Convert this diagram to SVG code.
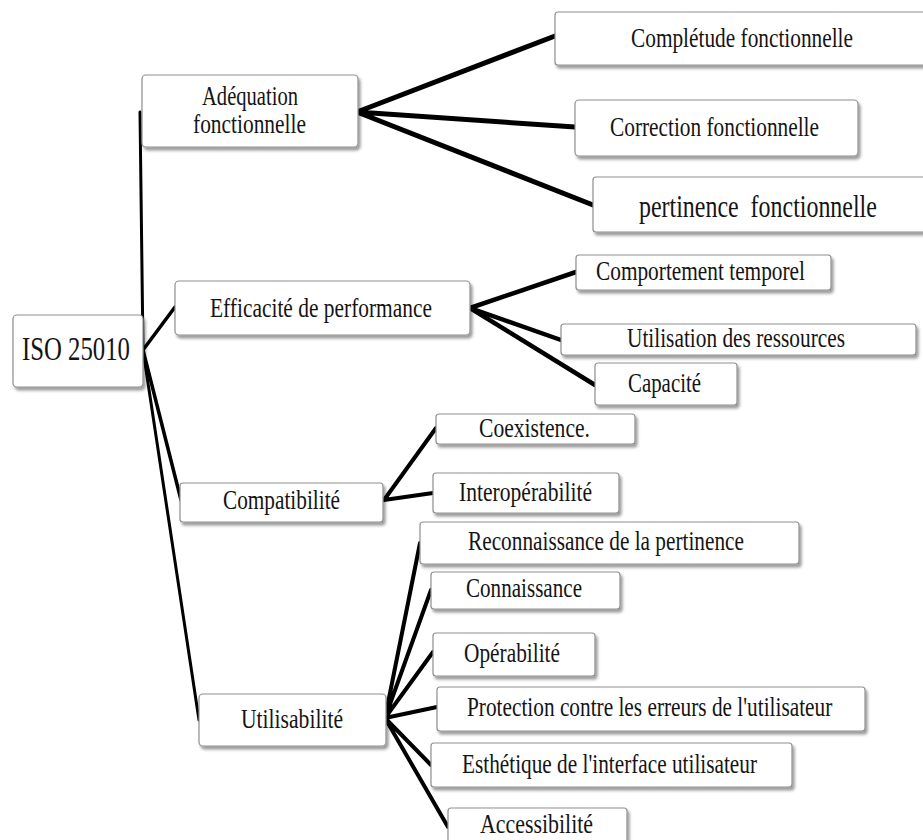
<svg xmlns="http://www.w3.org/2000/svg" width="923" height="840" viewBox="0 0 923 840">
<defs>
<filter id="sh" x="-10%" y="-20%" width="130%" height="160%">
<feDropShadow dx="2" dy="3" stdDeviation="1.8" flood-color="#000" flood-opacity="0.4"/>
</filter>
</defs>
<style>
.box{fill:#fff;stroke:#8f8f8f;stroke-width:1.2;filter:url(#sh)}
.t{font-family:'Liberation Serif','DejaVu Serif','Times New Roman',serif;fill:#141414;font-size:28px;white-space:pre}
.c{fill:none;stroke:#000;stroke-linecap:round}
</style>
<rect width="923" height="840" fill="#fff"/>
<g id="connectors">
<path class="c" stroke-width="3" d="M140 112 L143 350"/>
<path class="c" stroke-width="3.5" d="M143 350 L175 307"/>
<path class="c" stroke-width="3.5" d="M143 350 L181 500"/>
<path class="c" stroke-width="3" d="M143 350 L199 720"/>
<path class="c" stroke-width="5" d="M357 112 L555 36 M357 112 L575 127 M357 112 L593 205"/>
<path class="c" stroke-width="4.5" d="M470 308 L576 272 M470 308 L561 340 M470 308 L595 385"/>
<path class="c" stroke-width="4" d="M384 500 L436 428 M384 500 L433 493"/>
<path class="c" stroke-width="4" d="M385 718 L420 543 M385 718 L431 590 M385 718 L433 652 M385 718 L437 707 M385 718 L431 765 M385 718 L448 827"/>
</g>
<g id="iso">
<rect class="box" x="13" y="315" width="130" height="72" rx="4"/>
<text class="t" x="22" y="360" style="font-size:33px" textLength="108" lengthAdjust="spacingAndGlyphs">ISO 25010</text>
</g>
<g id="adequation">
<rect class="box" x="142" y="75" width="216" height="72" rx="4"/>
<text class="t" x="202" y="105" textLength="96" lengthAdjust="spacingAndGlyphs">Adéquation</text>
<text class="t" x="193" y="133" textLength="113" lengthAdjust="spacingAndGlyphs">fonctionnelle</text>
</g>
<g id="efficacite">
<rect class="box" x="175" y="281" width="295" height="54" rx="4"/>
<text class="t" x="210" y="317" textLength="222" lengthAdjust="spacingAndGlyphs">Efficacité de performance</text>
</g>
<g id="compatibilite">
<rect class="box" x="180" y="483" width="203" height="39" rx="3"/>
<text class="t" x="223" y="509" textLength="117" lengthAdjust="spacingAndGlyphs">Compatibilité</text>
</g>
<g id="utilisabilite">
<rect class="box" x="199" y="694" width="187" height="52" rx="4"/>
<text class="t" x="241" y="728" textLength="102" lengthAdjust="spacingAndGlyphs">Utilisabilité</text>
</g>
<g id="completude">
<rect class="box" x="555" y="12" width="380" height="53" rx="3"/>
<text class="t" x="631" y="47" textLength="222" lengthAdjust="spacingAndGlyphs">Complétude fonctionnelle</text>
</g>
<g id="correction">
<rect class="box" x="575" y="100" width="283" height="56" rx="4"/>
<text class="t" x="610" y="136" textLength="209" lengthAdjust="spacingAndGlyphs">Correction fonctionnelle</text>
</g>
<g id="pertinence">
<rect class="box" x="593" y="177" width="340" height="55" rx="3"/>
<text class="t" transform="translate(639,217) scale(0.748,1)" style="font-size:32px">pertinence  fonctionnelle</text>
</g>
<g id="comportement">
<rect class="box" x="576" y="255" width="255" height="35" rx="3"/>
<text class="t" x="596" y="280" textLength="209" lengthAdjust="spacingAndGlyphs">Comportement temporel</text>
</g>
<g id="utilisation">
<rect class="box" x="561" y="324" width="355" height="31" rx="3"/>
<text class="t" x="627" y="347" textLength="218" lengthAdjust="spacingAndGlyphs">Utilisation des ressources</text>
</g>
<g id="capacite">
<rect class="box" x="595" y="363" width="142" height="42" rx="3"/>
<text class="t" x="628" y="392" textLength="73" lengthAdjust="spacingAndGlyphs">Capacité</text>
</g>
<g id="coexistence">
<rect class="box" x="436" y="414" width="199" height="30" rx="3"/>
<text class="t" x="479" y="437" textLength="111" lengthAdjust="spacingAndGlyphs">Coexistence.</text>
</g>
<g id="interoperabilite">
<rect class="box" x="433" y="473" width="186" height="40" rx="3"/>
<text class="t" x="459" y="501" textLength="133" lengthAdjust="spacingAndGlyphs">Interopérabilité</text>
</g>
<g id="reconnaissance">
<rect class="box" x="420" y="522" width="379" height="42" rx="3"/>
<text class="t" x="468" y="550" textLength="276" lengthAdjust="spacingAndGlyphs">Reconnaissance de la pertinence</text>
</g>
<g id="connaissance">
<rect class="box" x="431" y="572" width="189" height="37" rx="3"/>
<text class="t" x="466" y="597" textLength="116" lengthAdjust="spacingAndGlyphs">Connaissance</text>
</g>
<g id="operabilite">
<rect class="box" x="433" y="633" width="162" height="43" rx="3"/>
<text class="t" x="464" y="662" textLength="96" lengthAdjust="spacingAndGlyphs">Opérabilité</text>
</g>
<g id="protection">
<rect class="box" x="437" y="687" width="428" height="44" rx="3"/>
<text class="t" transform="translate(467,716) scale(0.761,1)">Protection contre les erreurs de l'utilisateur</text>
</g>
<g id="esthetique">
<rect class="box" x="431" y="743" width="361" height="44" rx="3"/>
<text class="t" x="462" y="773" textLength="295" lengthAdjust="spacingAndGlyphs">Esthétique de l'interface utilisateur</text>
</g>
<g id="accessibilite">
<rect class="box" x="448" y="808" width="179" height="50" rx="3"/>
<text class="t" x="480" y="833" textLength="113" lengthAdjust="spacingAndGlyphs">Accessibilité</text>
</g>
</svg>
